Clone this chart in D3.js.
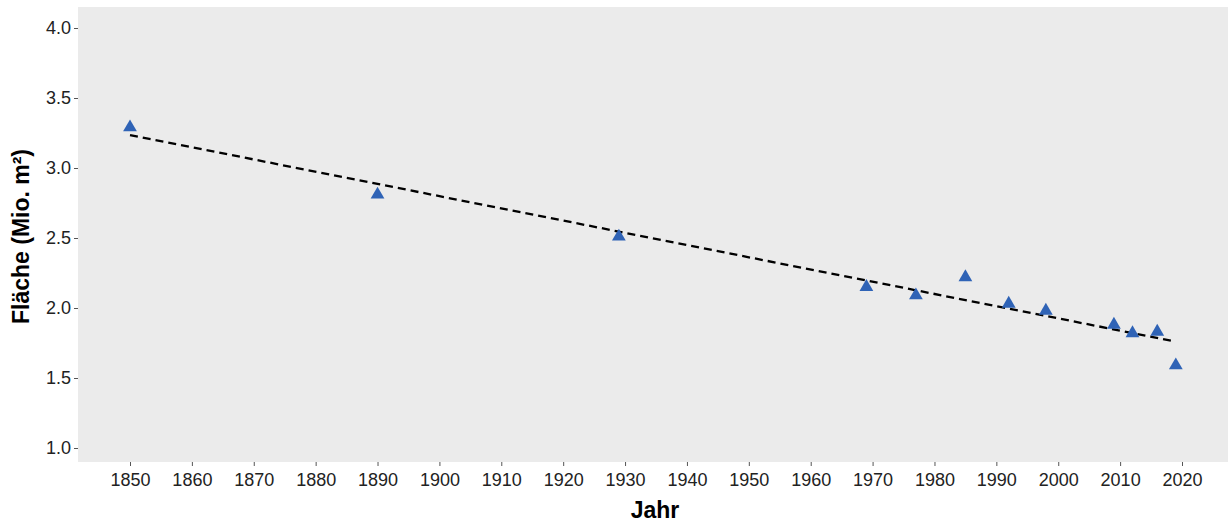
<!DOCTYPE html>
<html>
<head>
<meta charset="utf-8">
<script src="https://cdn.jsdelivr.net/npm/d3@7"></script>
<style>
  html, body { margin: 0; padding: 0; background: #ffffff; }
  svg { display: block; }
  text { font-family: "Liberation Sans", Arial, Helvetica, sans-serif; }
</style>
</head>
<body>
<svg id="chart" width="1232" height="524"></svg>
<script>
// Survey years and measured area (million m²)
const years = [1850, 1890, 1929, 1969, 1977, 1985, 1992, 1998, 2009, 2012, 2016, 2019];
const areas = [3.29, 2.81, 2.51, 2.15, 2.09, 2.22, 2.03, 1.98, 1.88, 1.82, 1.83, 1.59];

const xTicks = [1850, 1860, 1870, 1880, 1890, 1900, 1910, 1920, 1930, 1940, 1950, 1960, 1970, 1980, 1990, 2000, 2010, 2020];
const yTicks = [1.0, 1.5, 2.0, 2.5, 3.0, 3.5, 4.0];

const xTitle = "Jahr";
const yTitle = "Fläche (Mio. m²)";

const svg = d3.select("#chart");
const panel = { left: 78, right: 1228, top: 7, bottom: 462 };

const x = d3.scaleLinear().domain([1850, 2020]).range([130, 1182]);
const y = d3.scaleLinear().domain([1.0, 4.0]).range([448, 28]);

// panel background
svg.append("rect")
  .attr("x", panel.left).attr("y", panel.top)
  .attr("width", panel.right - panel.left)
  .attr("height", panel.bottom - panel.top)
  .attr("fill", "#ebebeb");

// axes
const xAxis = svg.append("g")
  .attr("transform", `translate(0,${panel.bottom})`)
  .call(d3.axisBottom(x).tickValues(xTicks).tickFormat(d3.format("d")).tickSize(4).tickPadding(7));
const yAxis = svg.append("g")
  .attr("transform", `translate(${panel.left},0)`)
  .call(d3.axisLeft(y).tickValues(yTicks).tickFormat(d3.format(".1f")).tickSize(4).tickPadding(3));

[xAxis, yAxis].forEach(g => {
  g.select(".domain").remove();
  g.selectAll(".tick line").attr("stroke", "#555").attr("stroke-width", 1);
  g.selectAll(".tick text").attr("fill", "#222").style("font-size", "18px");
});

// least-squares trend line over the observed years
const mx = d3.mean(years), my = d3.mean(areas);
let sxy = 0, sxx = 0;
years.forEach((yr, i) => { sxy += (yr - mx) * (areas[i] - my); sxx += (yr - mx) * (yr - mx); });
const slope = sxy / sxx, intercept = my - slope * mx;
const fit = d3.extent(years).map(yr => [yr, intercept + slope * yr]);

svg.append("path")
  .datum(fit)
  .attr("d", d3.line().x(d => x(d[0])).y(d => y(d[1])))
  .attr("fill", "none")
  .attr("stroke", "#000")
  .attr("stroke-width", 2.3)
  .attr("stroke-dasharray", "8,5");

// observations
const tri = d3.symbol().type(d3.symbolTriangle).size(82);
svg.append("g").selectAll("path")
  .data(years.map((yr, i) => ({ yr, v: areas[i] })))
  .join("path")
  .attr("transform", d => `translate(${x(d.yr)},${y(d.v)})`)
  .attr("d", tri)
  .attr("fill", "#2f63b6");

// axis titles
svg.append("text")
  .attr("x", (panel.left + panel.right) / 2 + 2)
  .attr("y", 518)
  .attr("text-anchor", "middle")
  .attr("font-weight", "bold")
  .style("font-size", "23px")
  .attr("fill", "#000")
  .text(xTitle);

svg.append("text")
  .attr("transform", `translate(29,${(panel.top + panel.bottom) / 2 + 2}) rotate(-90)`)
  .attr("text-anchor", "middle")
  .attr("font-weight", "bold")
  .style("font-size", "23px")
  .attr("fill", "#000")
  .text(yTitle);
</script>
</body>
</html>
